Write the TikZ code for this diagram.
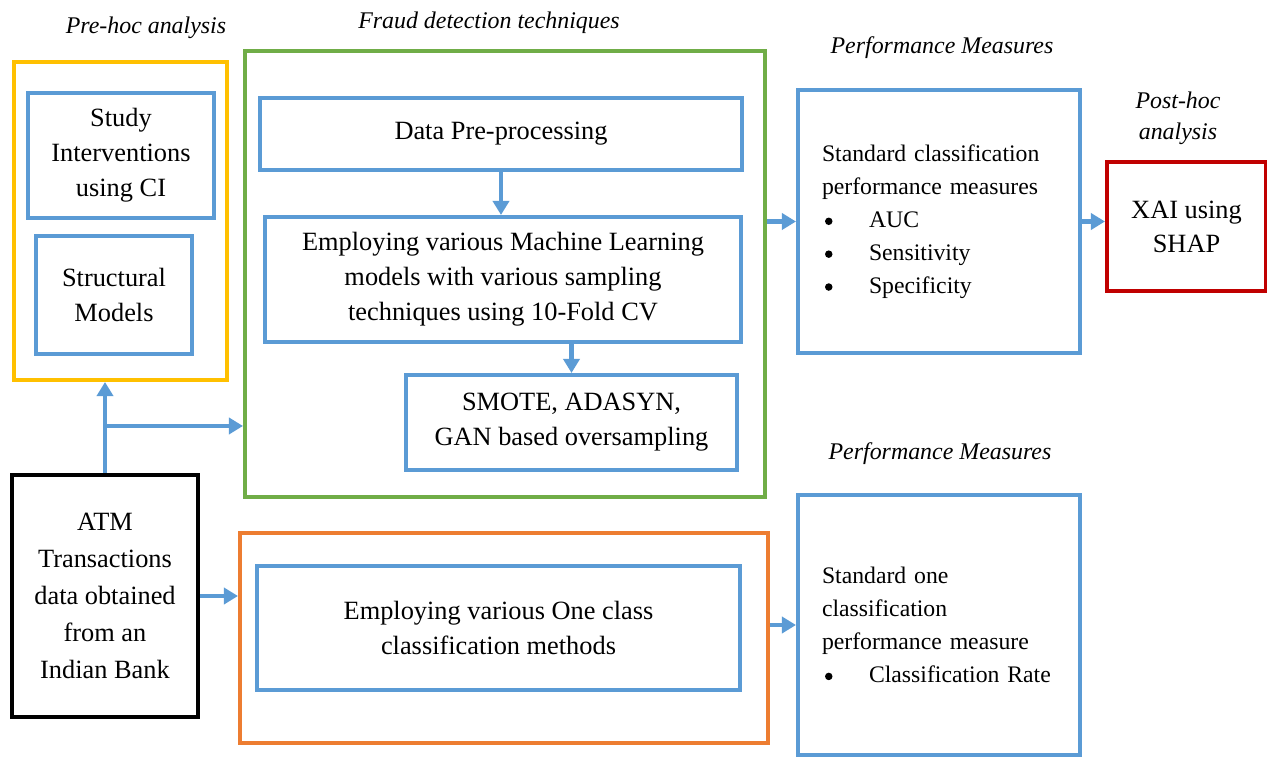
\documentclass[tikz,border=0pt]{standalone}
\usepackage{fontspec}
\setmainfont{Liberation Serif}
\usetikzlibrary{arrows.meta}
\definecolor{boxblue}{HTML}{5B9BD5}
\definecolor{prehoc}{HTML}{FFC000}
\definecolor{fraud}{HTML}{70AD47}
\definecolor{oneclass}{HTML}{ED7D31}
\definecolor{xaired}{HTML}{C00000}
\tikzset{
  group/.style={draw=#1, line width=2.3pt, inner sep=0pt},
  item/.style={draw=boxblue, line width=2.3pt, align=center, inner sep=2pt, font=\fontsize{15}{20}\selectfont},
  measure/.style={draw=boxblue, line width=2.3pt, align=left, inner xsep=0.48cm, text width=4.68cm, minimum width=5.64cm, font=\fontsize{13.5}{18.7}\selectfont},
  heading/.style={align=center, font=\fontsize{13.6}{17.8}\selectfont\itshape},
  flow/.style={-{Triangle[length=0.28cm, width=0.32cm]}, line width=2.8pt, draw=boxblue}
}
\newcommand{\bulletitem}[1]{\makebox[0.94cm][l]{\hspace{0.06cm}\tikz[baseline=-0.55ex]\fill[black] (0,0) circle (0.075cm);}#1}

\begin{document}
\begin{tikzpicture}
  \useasboundingbox (0,0) rectangle (25.34,-15.16);

  % headings
  \node[heading] (hpre) at (2.92,-0.56) {Pre-hoc analysis};
  \node[heading] (hfraud) at (9.78,-0.46) {Fraud detection techniques};
  \node[heading] (hperf) at (18.84,-0.96) {Performance Measures};
  \node[heading] (hpost) at (23.56,-2.36) {Post-hoc\\analysis};
  \node[heading] (hperfb) at (18.80,-9.08) {Performance Measures};

  % pre-hoc analysis
  \node[group=prehoc, minimum width=4.26cm, minimum height=6.36cm] (yellow) at (2.41,-4.42) {};
  \node[item, minimum width=3.72cm, minimum height=2.5cm] (study) at (2.42,-3.11) {Study\\Interventions\\using CI};
  \node[item, minimum width=3.12cm, minimum height=2.36cm] (struct) at (2.28,-5.9) {Structural\\Models};

  % fraud detection techniques
  \node[group=fraud, minimum width=10.4cm, minimum height=8.92cm] (green) at (10.1,-5.48) {};
  \node[item, minimum width=9.64cm, minimum height=1.44cm] (pre) at (10.02,-2.68) {Data Pre-processing};
  \node[item, minimum width=9.52cm, minimum height=2.5cm] (ml) at (10.06,-5.59) {Employing various Machine Learning\\models with various sampling\\techniques using 10-Fold CV};
  \node[item, minimum width=6.62cm, minimum height=1.9cm] (smote) at (11.43,-8.45) {SMOTE, ADASYN,\\GAN based oversampling};

  % one class methods
  \node[group=oneclass, minimum width=10.56cm, minimum height=4.2cm] (orange) at (10.08,-12.76) {};
  \node[item, minimum width=9.66cm, minimum height=2.48cm] (onecls) at (9.97,-12.56) {Employing various One class\\classification methods};

  % data
  \node[item, draw=black, minimum width=3.72cm, minimum height=4.84cm, font=\fontsize{15}{21}\selectfont] (atm) at (2.1,-11.92) {ATM\\Transactions\\data obtained\\from an\\Indian Bank};

  % performance measures
  \node[measure, minimum height=5.26cm] (perfa) at (18.78,-4.43) {Standard classification\\performance measures\\\bulletitem{AUC}\\\bulletitem{Sensitivity}\\\bulletitem{Specificity}};
  \node[measure, minimum height=5.2cm] (perfb) at (18.78,-12.5) {Standard one\\classification\\performance measure\\\bulletitem{Classification Rate}};

  % post-hoc analysis
  \node[item, draw=xaired, minimum width=3.18cm, minimum height=2.58cm, font=\fontsize{15}{19.3}\selectfont] (xai) at (23.73,-4.53) {XAI using\\SHAP};

  % connectors
  \coordinate (branch) at ([yshift=0.94cm]atm.north);
  \draw[flow] (atm.north) -- (atm.north |- yellow.south);
  \draw[flow] (branch) -- (branch -| green.west);
  \draw[flow] (pre.south) -- (pre.south |- ml.north);
  \draw[flow] (smote.north |- ml.south) -- (smote.north);
  \draw[flow] (perfa.west -| green.east) -- (perfa.west);
  \draw[flow] (perfa.east) -- (perfa.east -| xai.west);
  \draw[flow] (atm.east) -- (atm.east -| orange.west);
  \draw[flow] (perfb.west -| orange.east) -- (perfb.west);
\end{tikzpicture}
\end{document}
